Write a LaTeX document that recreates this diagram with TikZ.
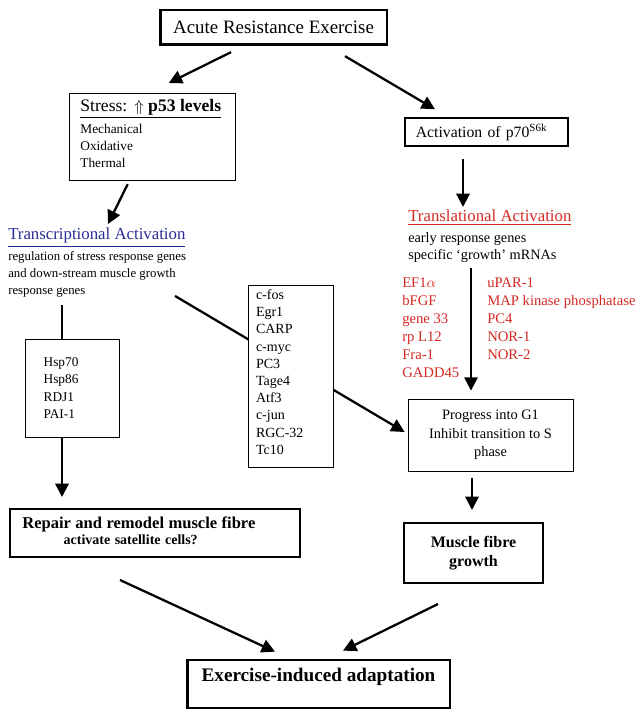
\documentclass[tikz,border=0pt]{standalone}
\usepackage{amsmath}
\usepackage{amssymb}
\usepackage{fontspec}
\setmainfont{Liberation Serif}
\usetikzlibrary{arrows.meta,positioning}

\definecolor{transblue}{RGB}{40,45,150}
\definecolor{transred}{RGB}{212,42,36}

% extra depth under the last line of a box, lifts the text a little
\newcommand{\liftby}[1]{\rule[-#1]{0pt}{#1}}

\tikzset{
  flowarrow/.style={line width=1.7pt, -{Triangle[length=10pt,width=10pt]}},
  flowline/.style={line width=1.7pt},
  thinbox/.style={draw, line width=0.6pt, fill=white},
  box/.style={draw, line width=1.1pt},
  heavybox/.style={draw, line width=2pt},
  bodytext/.style={font=\fontsize{10}{12.75}\selectfont, align=left},
  redtext/.style={font=\fontsize{11}{13.5}\selectfont, align=left, text=transred},
}

\begin{document}
\begin{tikzpicture}[x=0.75pt, y=-0.75pt]
            \useasboundingbox (0,0) rectangle (640,724);
            % top and the two branches
            \node[heavybox, minimum width=170pt, minimum height=26pt, font=\fontsize{14.2}{16}\selectfont] (ares) at (273.5,27.5) {Acute Resistance Exercise};
            \node[box, anchor=north west, minimum height=65pt, text width=108.5pt, inner xsep=8pt, bodytext] (stress) at (69,93)
                {{\fontsize{13.2}{15}\selectfont\underline{Stress: $\Uparrow$ \textbf{p53 levels}}}\\[4pt] Mechanical\\ Oxidative\\ Thermal\liftby{6pt}};
            \node[box, minimum width=122pt, minimum height=21pt, text width=106pt, inner xsep=8pt, align=left, font=\fontsize{11.8}{13}\selectfont] (p70) at (486.5,132) {Activation of p70\textsuperscript{S6k}};
            % activation texts
            \node[anchor=north west, bodytext, font=\fontsize{9.6}{12.75}\selectfont, inner sep=0pt] (transcr) at (8,228)
                {{\fontsize{12.6}{15}\selectfont\color{transblue}\underline{Transcriptional Activation}}\\[3pt] regulation of stress response genes\\ and down-stream muscle growth\\ response genes};
            \node[anchor=north west, bodytext, font=\fontsize{10.7}{12.75}\selectfont, inner sep=0pt] (transl) at (408,210)
                {{\fontsize{12.6}{15}\selectfont\color{transred}\underline{Translational Activation}}\\[3pt] early response genes\\ specific `growth' mRNAs};
            \node[anchor=north west, redtext, inner sep=0pt] (redgenes) at (402,278) {EF1$\alpha$\\ bFGF\\ gene 33\\ rp L12\\ Fra-1\\ GADD45};
            \node[anchor=north west, redtext, inner sep=0pt] (redmore) at (487,278) {uPAR-1\\ MAP kinase phosphatase\\ PC4\\ NOR-1\\ NOR-2};
            % gene boxes and outcomes
            \node[thinbox, minimum height=73.5pt, text width=42.5pt, inner xsep=14pt, bodytext, font=\fontsize{10}{13}\selectfont] (hsp) at (72,388) {Hsp70\\ Hsp86\\ RDJ1\\ PAI-1};
            \node[thinbox, minimum width=123.75pt, minimum height=54pt, align=center, font=\fontsize{10.8}{14}\selectfont] (progress) at (490.5,435)
                {Progress into G1\\ Inhibit transition to S\\ phase};
            \node[heavybox, line width=1.5pt, minimum width=104pt, minimum height=45pt, align=center, font=\bfseries\fontsize{12}{14.5}\selectfont] (muscle) at (473.5,553)
                {Muscle fibre\\ growth};
            \node[heavybox, line width=1.5pt, minimum height=36pt, text width=199pt, inner xsep=9pt, align=left] (repair) at (155,533)
                {\textbf{\fontsize{12.4}{14}\selectfont Repair and remodel muscle fibre}\\ \hspace*{31pt}\textbf{\fontsize{10.5}{12}\selectfont activate satellite cells?}\liftby{4pt}};
            \node[heavybox, minimum width=197pt, minimum height=36pt, text depth=14pt, font=\bfseries\fontsize{14.4}{16}\selectfont] (adapt) at (318.5,684) {Exercise-induced adaptation};
            % connectors
            \draw[flowarrow] ([shift={(-42.5,6)}]ares.south) -- ([shift={(16,-10)}]stress.north);
            \draw[flowarrow] ([shift={(71.5,10)}]ares.south) -- ([shift={(-51.5,-8)}]p70.north);
            \draw[flowarrow] ([shift={(-25,3)}]stress.south) -- ([shift={(100,-4)}]transcr.north west);
            \draw[flowarrow] ([shift={(-23.5,12)}]p70.south) -- ([shift={(55,-3)}]transl.north west);
            \draw[flowarrow] ([shift={(-19.5,-131)}]progress.north) -- ([shift={(-19.5,-8)}]progress.north);
            \draw[flowarrow] ([shift={(-18.5,7)}]progress.south) -- ([shift={(-1.5,-12)}]muscle.north);
            \draw[flowline] ([shift={(-10,-34)}]hsp.north) -- ([shift={(-10,0)}]hsp.north);
            \draw[flowarrow] ([shift={(-10,0)}]hsp.south) -- ([shift={(-93,-11)}]repair.north);
            \draw[flowarrow] ([shift={(167,-2)}]transcr.south west) -- ([shift={(-3,-3)}]progress.west);
            \draw[flowarrow] ([shift={(-35,22)}]repair.south) -- ([shift={(-43.5,-7)}]adapt.north);
            \draw[flowarrow] ([shift={(-35.5,20)}]muscle.south) -- ([shift={(24.5,-8)}]adapt.north);
            % middle gene list sits over the diagonal
            \node[thinbox, minimum height=136.5pt, text width=51.75pt, inner xsep=6pt, bodytext, font=\fontsize{10.5}{12.9}\selectfont] (early) at (290.5,376)
                {c-fos\\ Egr1\\ CARP\\ c-myc\\ PC3\\ Tage4\\ Atf3\\ c-jun\\ RGC-32\\ Tc10\liftby{6pt}};
        \end{tikzpicture}
\end{document}
